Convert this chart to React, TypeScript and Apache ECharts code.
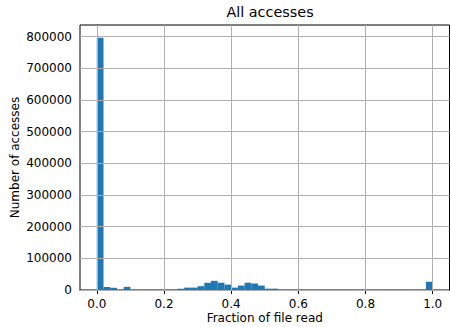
import React, { useEffect, useRef } from "react";
import * as echarts from "echarts";

const binStart = 0;
const binWidth = 0.02;
const counts = [
  797000, 9500, 7000, 0, 10000, 0, 0, 0, 0, 0,
  0, 0, 4000, 7500, 7500, 12000, 23000, 29000, 23000, 17000,
  7500, 14000, 23000, 20500, 14000, 4200, 4200, 0, 0, 0,
  0, 0, 0, 0, 0, 0, 0, 0, 0, 0,
  0, 0, 0, 0, 0, 0, 0, 0, 0, 26000,
];
const xTicks = [0, 0.2, 0.4, 0.6, 0.8, 1.0];
const yTicks = [0, 100000, 200000, 300000, 400000, 500000, 600000, 700000, 800000];
const title = "All accesses";
const xLabel = "Fraction of file read";
const yLabel = "Number of accesses";

const FONT = "DejaVu Sans";

export default function App() {
  const ref = useRef<HTMLDivElement>(null);
  useEffect(() => {
    const chart = echarts.init(ref.current!, null, { renderer: "svg" });
    const data = counts.map((c, i) => [binStart + i * binWidth, binStart + (i + 1) * binWidth, c]);
    chart.setOption({
      animation: false,
      title: {
        text: title,
        left: 265,
        textAlign: "center",
        top: 0,
        textStyle: { fontFamily: FONT, fontSize: 14.4, fontWeight: "normal", color: "#000" },
      },
      grid: {
        left: 80,
        right: 0.5,
        top: 25,
        bottom: 37,
        containLabel: false,
        outerBoundsMode: "none",
        show: true,
        borderColor: "#000",
        borderWidth: 1,
        backgroundColor: "#fff",
      },
      xAxis: {
        type: "value",
        min: -0.05,
        max: 1.05,
        name: xLabel,
        nameLocation: "middle",
        nameGap: 22,
        nameMoveOverlap: false,
        nameTextStyle: { fontFamily: FONT, fontSize: 12, color: "#000", verticalAlign: "top" },
        axisLine: { show: true, onZero: false, lineStyle: { color: "#000", width: 1 } },
        axisTick: { show: true, length: 4, customValues: xTicks, lineStyle: { color: "#000" } },
        axisLabel: {
          customValues: xTicks,
          margin: 8,
          fontFamily: FONT,
          fontSize: 12,
          color: "#000",
          formatter: (v: number) => v.toFixed(1),
        },
        splitLine: { show: false },
      },
      yAxis: {
        type: "value",
        min: 0,
        max: 837000,
        name: yLabel,
        nameLocation: "middle",
        nameGap: 59,
        nameMoveOverlap: false,
        nameTextStyle: { fontFamily: FONT, fontSize: 12, color: "#000" },
        axisLine: { show: true, lineStyle: { color: "#000", width: 1 } },
        axisTick: { show: true, length: 4, customValues: yTicks, lineStyle: { color: "#000" } },
        axisLabel: {
          customValues: yTicks,
          margin: 8,
          fontFamily: FONT,
          fontSize: 12,
          color: "#000",
          formatter: (v: number) => String(v),
        },
        splitLine: { show: false },
      },
      series: [
        {
          type: "custom",
          data,
          encode: { x: [0, 1], y: 2 },
          renderItem: (params: any, api: any) => {
            const x0 = api.value(0);
            const x1 = api.value(1);
            const c = api.value(2);
            if (!c) return null;
            const p0 = api.coord([x0, c]);
            const p1 = api.coord([x1, 0]);
            return {
              type: "rect",
              shape: { x: p0[0], y: p0[1], width: p1[0] - p0[0], height: p1[1] - p0[1] },
              style: { fill: "#1f77b4" },
            };
          },
          markLine: {
            silent: true,
            symbol: ["none", "none"],
            label: { show: false },
            lineStyle: { color: "#b0b0b0", width: 1, type: "solid" },
            data: [
              ...xTicks.map((v) => ({ xAxis: v })),
              ...yTicks.map((v) => ({ yAxis: v })),
            ],
          },
        },
      ],
    });
    return () => chart.dispose();
  }, []);
  return <div ref={ref} style={{ width: 450, height: 327, position: "absolute", left: 0, top: 0 }} />;
}
